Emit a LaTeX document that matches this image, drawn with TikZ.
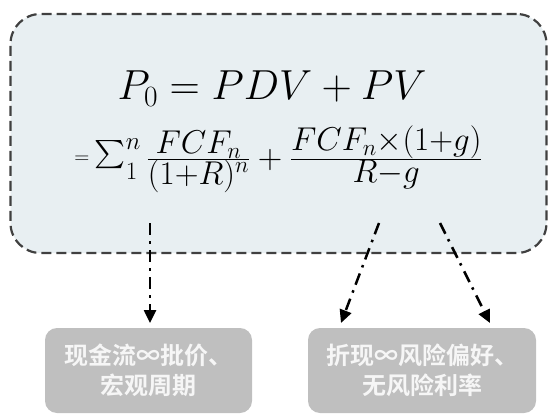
\RequirePackage{fix-cm}
\documentclass[tikz,border=0pt]{standalone}
\usepackage{graphicx}
\usepackage{fontspec}
\newfontfamily\cjk{Noto Sans CJK SC}[BoldFont={Noto Sans CJK SC Bold}]
\usetikzlibrary{arrows.meta}
\definecolor{boxfill}{RGB}{232,239,242}
\definecolor{boxline}{RGB}{64,64,64}
\definecolor{infofill}{RGB}{191,191,191}
\definecolor{infotext}{RGB}{246,246,246}
\newcommand{\fsz}[2]{\mbox{\fontsize{#1}{#1}\selectfont$#2$}}
\newcommand{\bigsigma}{\mathop{\vcenter{\hbox{\resizebox*{31pt}{38pt}{$\textstyle\sum$}}}}}
\newcommand{\smalleq}{\vcenter{\hbox{\resizebox{15pt}{!}{$=$}}}}
\tikzset{
  mainbox/.style={draw=boxline, fill=boxfill, line width=2.2pt,
    dash pattern=on 10pt off 5pt, rounded corners=30pt,
    minimum width=536pt, minimum height=239pt, inner sep=0pt},
  infobox/.style={fill=infofill, rounded corners=12pt, inner sep=0pt,
    text=infotext, align=center, minimum height=85pt,
    font=\cjk\bfseries\fontsize{24}{30}\selectfont},
  formula/.style={anchor=base, inner sep=0pt},
  flowarrow/.style={line width=2.5pt, dash pattern=on 12pt off 6pt on 2.5pt off 6.5pt,
    -{Triangle[length=13pt,width=12pt]}},
}
\begin{document}
\begin{tikzpicture}[x=1pt,y=-1pt]
\useasboundingbox (0,0) rectangle (548,414);
\node[mainbox] (main) at (278.5,133.5) {};
\node[formula] (eq1) at (272,100) {\fontsize{42}{48}\selectfont $P_0 = PDV + PV$};
\node[formula] (eq2) at (278.5,168) {\fontsize{34}{40}\selectfont
  $\smalleq\bigsigma\nolimits_{\fsz{25}{1}}^{\fsz{25}{n}}
  \frac{\fsz{33}{FCF_n}}{\fsz{33}{(1{+}R)^n}}+\frac{\fsz{33}{FCF_n{\times}(1{+}g)}}{\fsz{33}{R{-}g}}$};
\node[infobox, minimum width=207pt] (lb) at (148.5,370.5) {现金流∞批价、\\宏观周期};
\node[infobox, minimum width=228pt] (rb) at (422,370.5) {折现∞风险偏好、\\无风险利率};
\coordinate (s1) at (150,223);
\coordinate (s2) at (379,223);
\coordinate (s3) at (440,223);
\coordinate (e1) at (150,323);
\coordinate (e2) at (341,323);
\coordinate (e3) at (490,323);
\draw[flowarrow] (s1) -- (e1);
\draw[flowarrow] (s2) -- (e2);
\draw[flowarrow] (s3) -- (e3);
\end{tikzpicture}
\end{document}
